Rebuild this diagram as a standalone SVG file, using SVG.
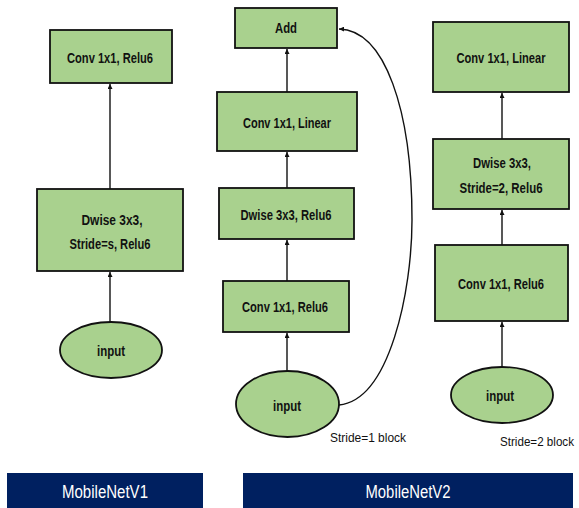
<svg xmlns="http://www.w3.org/2000/svg" width="579" height="508" viewBox="0 0 579 508">
<style>
.box{fill:#A9D18E;stroke:#111;stroke-width:1.8}
.lbl{font-family:"Liberation Sans",Arial,sans-serif;font-weight:bold;font-size:15px;fill:#111;text-anchor:middle}
.note{font-family:"Liberation Sans",Arial,sans-serif;font-size:12px;fill:#111}
.bar{fill:#002060}
.bart{font-family:"Liberation Sans",Arial,sans-serif;font-size:18px;fill:#fff;text-anchor:middle}
.edge{fill:none;stroke:#111;stroke-width:1.4}
</style>
<defs>
<marker id="ah" viewBox="0 0 6 6" refX="6" refY="3" markerWidth="5" markerHeight="5" markerUnits="userSpaceOnUse" orient="auto">
<path d="M0,0 L6,3 L0,6 z" fill="#111"/>
</marker>
</defs>
<rect width="579" height="508" fill="#fff"/>

<g id="edges">
<line class="edge" x1="110" y1="189" x2="110" y2="84" marker-end="url(#ah)"/>
<line class="edge" x1="110" y1="322" x2="110" y2="272" marker-end="url(#ah)"/>
<line class="edge" x1="287" y1="92" x2="287" y2="49" marker-end="url(#ah)"/>
<line class="edge" x1="287" y1="188" x2="287" y2="152" marker-end="url(#ah)"/>
<line class="edge" x1="287" y1="281" x2="287" y2="240" marker-end="url(#ah)"/>
<line class="edge" x1="287" y1="371" x2="287" y2="333" marker-end="url(#ah)"/>
<path class="edge" d="M339,405 C390,400 412,290 412,220 C412,110 385,30 339,29" marker-end="url(#ah)"/>
<line class="edge" x1="502" y1="139" x2="502" y2="93" marker-end="url(#ah)"/>
<line class="edge" x1="502" y1="245" x2="502" y2="210" marker-end="url(#ah)"/>
<line class="edge" x1="502" y1="367" x2="502" y2="322" marker-end="url(#ah)"/>
</g>

<g id="v1-conv">
<rect class="box" x="50" y="30" width="122" height="53"/>
<text class="lbl" x="110" y="63" textLength="86" lengthAdjust="spacingAndGlyphs">Conv 1x1, Relu6</text>
</g>
<g id="v1-dwise">
<rect class="box" x="37" y="189" width="146" height="82"/>
<text class="lbl" x="112" y="225" textLength="61" lengthAdjust="spacingAndGlyphs">Dwise 3x3,</text>
<text class="lbl" x="110" y="249" textLength="81" lengthAdjust="spacingAndGlyphs">Stride=s, Relu6</text>
</g>
<g id="v1-input">
<ellipse class="box" cx="111" cy="350" rx="51" ry="28"/>
<text class="lbl" x="111" y="356" textLength="28" lengthAdjust="spacingAndGlyphs">input</text>
</g>

<g id="s1-add">
<rect class="box" x="235" y="8" width="102" height="40"/>
<text class="lbl" x="286" y="33" textLength="22" lengthAdjust="spacingAndGlyphs">Add</text>
</g>
<g id="s1-linear">
<rect class="box" x="217" y="92" width="140" height="59"/>
<text class="lbl" x="287" y="128" textLength="88" lengthAdjust="spacingAndGlyphs">Conv 1x1, Linear</text>
</g>
<g id="s1-dwise">
<rect class="box" x="219" y="188" width="135" height="51"/>
<text class="lbl" x="286" y="220" textLength="91" lengthAdjust="spacingAndGlyphs">Dwise 3x3, Relu6</text>
</g>
<g id="s1-conv">
<rect class="box" x="223" y="281" width="126" height="51"/>
<text class="lbl" x="285" y="312" textLength="86" lengthAdjust="spacingAndGlyphs">Conv 1x1, Relu6</text>
</g>
<g id="s1-input">
<ellipse class="box" cx="287.5" cy="404" rx="51.5" ry="33"/>
<text class="lbl" x="287" y="411" textLength="28" lengthAdjust="spacingAndGlyphs">input</text>
</g>
<text class="note" x="330" y="442" textLength="76" lengthAdjust="spacingAndGlyphs">Stride=1 block</text>

<g id="s2-linear">
<rect class="box" x="433" y="22" width="136" height="70"/>
<text class="lbl" x="501" y="63" textLength="89" lengthAdjust="spacingAndGlyphs">Conv 1x1, Linear</text>
</g>
<g id="s2-dwise">
<rect class="box" x="433" y="139" width="136" height="70"/>
<text class="lbl" x="502" y="168" textLength="58" lengthAdjust="spacingAndGlyphs">Dwise 3x3,</text>
<text class="lbl" x="501" y="193" textLength="83" lengthAdjust="spacingAndGlyphs">Stride=2, Relu6</text>
</g>
<g id="s2-conv">
<rect class="box" x="435" y="245" width="133" height="76"/>
<text class="lbl" x="501" y="289" textLength="86" lengthAdjust="spacingAndGlyphs">Conv 1x1, Relu6</text>
</g>
<g id="s2-input">
<ellipse class="box" cx="502" cy="395" rx="51" ry="28"/>
<text class="lbl" x="500" y="401" textLength="28" lengthAdjust="spacingAndGlyphs">input</text>
</g>
<text class="note" x="500" y="446" textLength="74" lengthAdjust="spacingAndGlyphs">Stride=2 block</text>

<g id="bar-v1">
<rect class="bar" x="7" y="473" width="196" height="35"/>
<text class="bart" x="105" y="498" textLength="86" lengthAdjust="spacingAndGlyphs">MobileNetV1</text>
</g>
<g id="bar-v2">
<rect class="bar" x="243" y="473" width="330" height="35"/>
<text class="bart" x="408" y="498" textLength="85" lengthAdjust="spacingAndGlyphs">MobileNetV2</text>
</g>
</svg>
